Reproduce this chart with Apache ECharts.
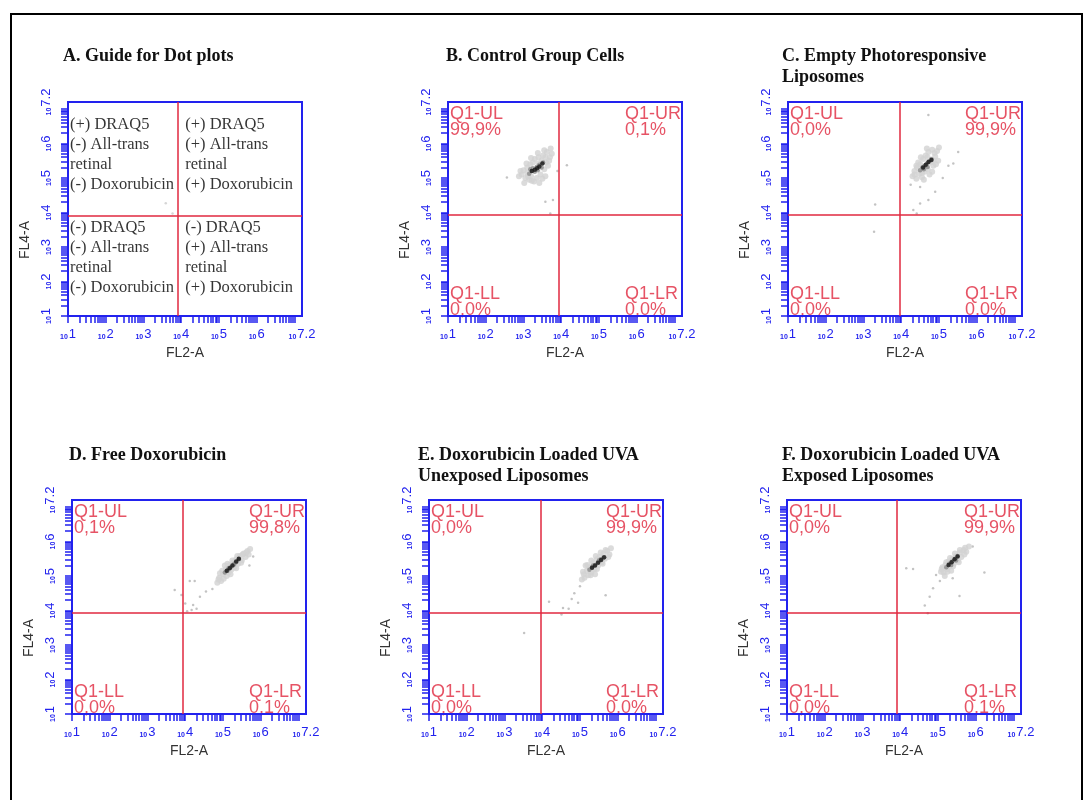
<!DOCTYPE html>
<html>
<head>
<meta charset="utf-8">
<script src="https://cdn.jsdelivr.net/npm/echarts@6/dist/echarts.min.js"></script>
<style>
html, body { margin: 0; padding: 0; background: #fff; }
#main { width: 1084px; height: 800px; }
</style>
</head>
<body>
<div id="main"></div>
<script>
// all positions are in decades (log10 of the channel value)
var axisMin = 1, axisMax = 7.2;
var tickLabels = [1, 2, 3, 4, 5, 6, 7.2];
var decades = [1, 2, 3, 4, 5, 6, 7];

var panelTitles = [
	'A. Guide for Dot plots',
	'B. Control Group Cells',
	'C. Empty Photoresponsive\nLiposomes',
	'D. Free Doxorubicin',
	'E. Doxorubicin Loaded UVA\nUnexposed Liposomes',
	'F. Doxorubicin Loaded UVA\nExposed Liposomes'
];

// quadrant gates (FL2-A, FL4-A)
var gateX = [3.92, 3.94, 3.95, 3.93, 3.95, 3.92];
var gateY = [3.91, 3.92, 3.92, 3.92, 3.92, 3.92];

// quadrant percentages: UL, UR, LL, LR
var pctB = ['99,9%', '0,1%', '0,0%', '0,0%'];
var pctC = ['0,0%', '99,9%', '0,0%', '0,0%'];
var pctD = ['0,1%', '99,8%', '0,0%', '0,1%'];
var pctE = ['0,0%', '99,9%', '0,0%', '0,0%'];
var pctF = ['0,0%', '99,9%', '0,0%', '0,1%'];

// guide panel text
var guideUL = ['(+) DRAQ5', '(-) All-trans', 'retinal', '(-) Doxorubicin'];
var guideUR = ['(+) DRAQ5', '(+) All-trans', 'retinal', '(+) Doxorubicin'];
var guideLL = ['(-) DRAQ5', '(-) All-trans', 'retinal', '(-) Doxorubicin'];
var guideLR = ['(-) DRAQ5', '(+) All-trans', 'retinal', '(+) Doxorubicin'];
var strayA = [[3.59, 4.27], [3.77, 3.97]];

// B. control cells
var haloB = [[2.95,5.10],[3.00,5.22],[3.05,5.00],[3.10,5.15],[3.10,5.30],[3.15,4.95],[3.18,5.40],[3.20,5.05],[3.25,5.45],[3.28,4.90],[3.30,5.55],[3.35,5.00],[3.40,5.60],[3.45,5.10],[3.48,5.50],[3.52,5.65],[3.55,5.25],[3.60,5.45],[3.62,5.75],[3.65,5.35],[3.70,5.60],[3.72,5.85],[2.88,5.05],[3.02,4.85],[3.42,4.85],[3.58,5.05],[2.92,5.20],[3.08,5.42],[3.20,5.58],[3.38,5.72],[3.55,5.80],[3.68,5.50],[3.75,5.70],[3.50,4.98],[3.22,4.92],[3.12,5.05],[3.40,5.42],[3.58,5.60]];
var midB = [[3.15,5.12],[3.22,5.20],[3.30,5.18],[3.35,5.32],[3.42,5.38],[3.48,5.30],[3.25,5.28],[3.38,5.22],[3.52,5.45],[3.18,5.25]];
var coreB = [[3.22,5.20],[3.30,5.24],[3.36,5.28],[3.42,5.33],[3.50,5.42]];
var strayB = [[2.56,5.01],[3.58,4.31],[3.78,4.36],[3.71,3.97],[4.15,5.37],[3.90,5.20]];

// C. empty liposomes
var haloC = [[4.30,5.05],[4.35,5.20],[4.40,4.98],[4.42,5.30],[4.48,5.12],[4.50,5.40],[4.55,5.02],[4.58,5.55],[4.62,5.18],[4.65,5.65],[4.70,5.25],[4.72,5.75],[4.78,5.45],[4.82,5.82],[4.85,5.35],[4.90,5.62],[4.95,5.78],[4.98,5.50],[4.45,5.45],[4.60,4.95],[4.75,5.10],[5.00,5.88],[4.35,5.10],[4.52,5.60],[4.68,5.85],[4.88,5.72],[4.92,5.40],[4.82,5.18],[4.40,5.35],[4.55,5.15],[4.70,5.60],[4.85,5.50]];
var midC = [[4.50,5.22],[4.56,5.30],[4.62,5.35],[4.68,5.42],[4.74,5.48],[4.60,5.25],[4.70,5.32],[4.80,5.55]];
var coreC = [[4.58,5.30],[4.65,5.38],[4.72,5.46],[4.80,5.52]];
var strayC = [[4.72,6.82],[5.51,5.75],[5.38,5.42],[5.25,5.35],[4.50,4.74],[4.32,4.07],[4.50,4.26],[4.72,4.36],[4.41,3.97],[3.31,4.23],[3.28,3.44],[4.25,4.80],[4.90,4.60],[5.10,5.00]];

// D. free doxorubicin
var haloD = [[4.85,4.80],[4.90,4.95],[4.95,4.85],[5.00,5.05],[5.02,4.92],[5.08,5.20],[5.10,5.00],[5.15,5.10],[5.18,5.32],[5.22,5.18],[5.28,5.40],[5.30,5.25],[5.35,5.48],[5.40,5.35],[5.45,5.58],[5.50,5.45],[5.55,5.65],[5.60,5.55],[5.65,5.72],[5.72,5.78],[4.92,5.08],[5.05,5.30],[4.88,4.90],[4.98,5.15],[5.12,5.35],[5.25,5.45],[5.38,5.58],[5.52,5.62],[5.62,5.68],[5.20,5.05],[5.35,5.22],[5.48,5.38],[5.68,5.62]];
var midD = [[5.05,5.10],[5.12,5.15],[5.20,5.25],[5.28,5.32],[5.35,5.40],[5.42,5.48],[5.15,5.22],[5.30,5.35]];
var coreD = [[5.10,5.15],[5.18,5.22],[5.25,5.30],[5.35,5.42],[5.42,5.50]];
var strayD = [[3.72,4.59],[3.90,4.45],[4.12,4.85],[4.25,4.85],[4.39,4.40],[4.55,4.55],[4.72,4.62],[4.21,4.16],[4.17,4.01],[4.05,3.98],[4.30,4.05],[4.00,4.20],[5.80,5.56],[5.70,5.30]];

// E. loaded, UVA unexposed
var haloE = [[5.05,4.90],[5.10,5.05],[5.12,4.95],[5.18,5.15],[5.22,5.02],[5.25,5.25],[5.30,5.10],[5.35,5.38],[5.38,5.20],[5.45,5.48],[5.48,5.30],[5.52,5.55],[5.58,5.40],[5.62,5.65],[5.66,5.50],[5.72,5.72],[5.78,5.62],[5.82,5.80],[5.15,5.30],[5.40,5.05],[5.08,5.12],[5.20,5.32],[5.30,5.45],[5.42,5.58],[5.55,5.68],[5.68,5.75],[5.28,5.02],[5.45,5.20],[5.60,5.35],[5.75,5.55]];
var midE = [[5.25,5.18],[5.32,5.25],[5.40,5.32],[5.48,5.40],[5.55,5.48],[5.62,5.52],[5.35,5.30],[5.50,5.45]];
var coreE = [[5.32,5.24],[5.40,5.30],[5.48,5.38],[5.56,5.46],[5.64,5.54]];
var strayE = [[4.18,4.25],[4.78,4.33],[4.95,4.22],[4.55,4.07],[4.70,4.05],[4.51,3.88],[5.68,4.44],[3.52,3.35],[5.00,4.70],[4.85,4.50]];

// F. loaded, UVA exposed
var haloF = [[5.08,5.12],[5.12,5.25],[5.15,5.10],[5.20,5.32],[5.25,5.20],[5.28,5.42],[5.32,5.28],[5.38,5.50],[5.42,5.35],[5.48,5.58],[5.52,5.45],[5.58,5.68],[5.62,5.55],[5.68,5.75],[5.75,5.70],[5.82,5.85],[5.18,5.00],[5.35,5.15],[5.10,5.20],[5.22,5.40],[5.32,5.52],[5.45,5.65],[5.58,5.75],[5.72,5.82],[5.25,5.12],[5.40,5.28],[5.55,5.40],[5.70,5.62]];
var midF = [[5.22,5.25],[5.30,5.35],[5.38,5.42],[5.45,5.50],[5.52,5.58],[5.35,5.32],[5.48,5.45]];
var coreF = [[5.28,5.32],[5.36,5.40],[5.44,5.48],[5.52,5.56]];
var strayF = [[4.16,5.22],[4.34,5.20],[6.23,5.10],[5.57,4.42],[4.87,4.64],[4.78,4.40],[4.65,4.14],[4.73,3.92],[4.95,5.03],[5.39,4.93],[5.92,5.85],[5.05,4.85]];

var BLUE = '#2222ee';
var RED = '#e0283f';
var SANS = 'Liberation Sans';
var SERIF = 'Liberation Serif';

// log minor ticks: 1..9 x 10^n
var minorTicks = [];
decades.forEach(function(d) {
	for (var k = 1; k <= 9; k++) {
		var v = d + Math.log10(k);
		if (v <= axisMax + 1e-9) minorTicks.push(v);
	}
});

var gridPos = [[68, 102], [448, 102], [788, 102], [72, 500], [429, 500], [787, 500]];
var titlePos = [[63, 46], [446, 46], [782, 46], [69, 445], [418, 445], [782, 445]];

var tickRich = {
	b: { fontSize: 7, color: BLUE, fontFamily: SANS, fontWeight: 'bold', verticalAlign: 'bottom', padding: [0, 1, 0, 0] },
	e: { fontSize: 13, color: BLUE, fontFamily: SANS, verticalAlign: 'bottom' }
};
function tickText(v) {
	return '{b|10}{e|' + v + '}';
}

var grids = [], xAxes = [], yAxes = [], titles = [], series = [];

gridPos.forEach(function(p, i) {
	grids.push({ left: p[0], top: p[1], width: 234, height: 214, show: true, borderColor: BLUE, borderWidth: 2, backgroundColor: 'transparent' });
	var common = {
		type: 'value', gridIndex: i, min: axisMin, max: axisMax, z: 3,
		axisLine: { show: true, lineStyle: { color: BLUE, width: 2 } },
		axisTick: { show: true, length: 7, lineStyle: { color: BLUE, width: 1.5 }, customValues: minorTicks },
		splitLine: { show: false },
		nameTextStyle: { fontFamily: SANS, fontSize: 14, color: '#333' }
	};
	xAxes.push(Object.assign({}, common, {
		name: 'FL2-A', nameLocation: 'middle', nameGap: 30,
		axisLabel: { customValues: tickLabels, margin: 12, formatter: tickText, rich: tickRich }
	}));
	yAxes.push(Object.assign({}, common, {
		name: 'FL4-A', nameLocation: 'middle', nameGap: 36,
		nameTextStyle: { fontFamily: SANS, fontSize: 14, color: '#333', padding: [0, 62, 0, 0] },
		axisLabel: { customValues: tickLabels, margin: 15, rotate: 90, formatter: tickText, rich: tickRich }
	}));
	titles.push({
		text: panelTitles[i], left: titlePos[i][0], top: titlePos[i][1], padding: 0,
		textStyle: { fontFamily: SERIF, fontWeight: 'bold', fontSize: 18, lineHeight: 21, color: '#111' }
	});
});

function dots(i, data, color, size) {
	return { type: 'scatter', xAxisIndex: i, yAxisIndex: i, data: data, symbolSize: size, silent: true, itemStyle: { color: color } };
}

function gates(i) {
	return {
		type: 'scatter', xAxisIndex: i, yAxisIndex: i, data: [], silent: true,
		markLine: {
			silent: true, symbol: 'none', label: { show: false },
			lineStyle: { color: RED, width: 1.5, type: 'solid' },
			data: [{ xAxis: gateX[i] }, { yAxis: gateY[i] }]
		}
	};
}

function quadLabels(i, pct) {
	var tok = { fontFamily: SANS, fontSize: 18, lineHeight: 16, color: RED };
	var tokR = Object.assign({ width: 56, align: 'left' }, tok);
	function txt(name, p, right) {
		var k = right ? 'r' : 't';
		return '{' + k + '|' + name + '}\n{' + k + '|' + p + '}';
	}
	return {
		type: 'scatter', xAxisIndex: i, yAxisIndex: i, symbolSize: 0, silent: true, clip: false, z: 1,
		label: { show: true, rich: { t: tok, r: tokR } },
		data: [
			{ value: [axisMin, axisMax], label: { position: [2, 4], align: 'left', verticalAlign: 'top', formatter: txt('Q1-UL', pct[0], false) } },
			{ value: [axisMax, axisMax], label: { position: [-1, 4], align: 'right', verticalAlign: 'top', formatter: txt('Q1-UR', pct[1], true) } },
			{ value: [axisMin, axisMin], label: { position: [2, 2], align: 'left', verticalAlign: 'bottom', formatter: txt('Q1-LL', pct[2], false) } },
			{ value: [axisMax, axisMin], label: { position: [-1, 2], align: 'right', verticalAlign: 'bottom', formatter: txt('Q1-LR', pct[3], true) } }
		]
	};
}

function guideText(i) {
	function txt(lines) { return lines.join('\n'); }
	return {
		type: 'scatter', xAxisIndex: i, yAxisIndex: i, symbolSize: 0, silent: true, clip: false,
		label: { show: true, fontFamily: SERIF, fontSize: 16.5, lineHeight: 20, color: '#000', align: 'left', verticalAlign: 'top' },
		data: [
			{ value: [axisMin, axisMax], label: { position: [2, 13], formatter: txt(guideUL) } },
			{ value: [gateX[i], axisMax], label: { position: [7, 13], formatter: txt(guideUR) } },
			{ value: [axisMin, gateY[i]], label: { position: [2, 2], formatter: txt(guideLL) } },
			{ value: [gateX[i], gateY[i]], label: { position: [7, 2], formatter: txt(guideLR) } }
		]
	};
}

function cloud(i, halo, mid, core, stray) {
	series.push(dots(i, stray, '#b4b4b4', 2.5));
	series.push(dots(i, halo, '#d2d2d2', 6));
	series.push(dots(i, mid, '#8a8a8a', 4.5));
	series.push(dots(i, core, '#151515', 4.5));
}

// A
series.push(dots(0, strayA, '#cccccc', 2.5));
series.push(gates(0));
series.push(guideText(0));
// B..F
cloud(1, haloB, midB, coreB, strayB); series.push(gates(1)); series.push(quadLabels(1, pctB));
cloud(2, haloC, midC, coreC, strayC); series.push(gates(2)); series.push(quadLabels(2, pctC));
cloud(3, haloD, midD, coreD, strayD); series.push(gates(3)); series.push(quadLabels(3, pctD));
cloud(4, haloE, midE, coreE, strayE); series.push(gates(4)); series.push(quadLabels(4, pctE));
cloud(5, haloF, midF, coreF, strayF); series.push(gates(5)); series.push(quadLabels(5, pctF));

var chart = echarts.init(document.getElementById('main'));
chart.setOption({
	backgroundColor: '#fff',
	animation: false,
	title: titles,
	grid: grids,
	xAxis: xAxes,
	yAxis: yAxes,
	graphic: [{
		type: 'rect', silent: true, z: 10,
		shape: { x: 11, y: 14, width: 1071, height: 820 },
		style: { fill: 'none', stroke: '#000', lineWidth: 2 }
	}],
	series: series
});
</script>
</body>
</html>
